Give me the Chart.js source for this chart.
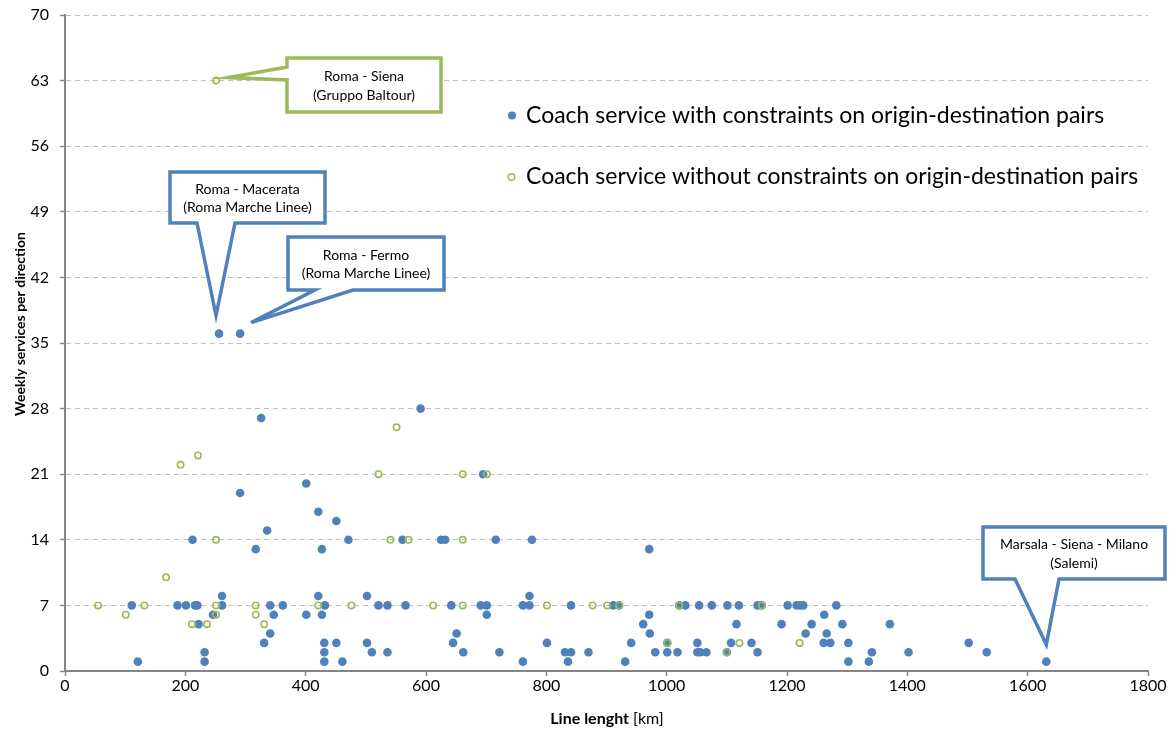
<!DOCTYPE html>
<html>
<head>
<meta charset="utf-8">
<script src="https://cdn.jsdelivr.net/npm/chart.js@4.4.1/dist/chart.umd.min.js"></script>
<style>
  html, body { margin: 0; padding: 0; background: #fff; }
  #wrap { width: 1176px; height: 729px; position: relative; }
</style>
</head>
<body>
<div id="wrap"><canvas id="chart"></canvas></div>
<script>
// scatter: linee bus, lunghezza vs servizi settimanali

const COLORS = {
  blue:  '#4F81BD',
  green: '#9BBB59',
  axis:  '#868686',
  grid:  '#BFBFBF',
};

// [km, servizi/settimana]
const withConstraints = [
  [256,36],[291,36],[591,28],[326,27],[695,21],[401,20],[291,19],[421,17],[451,16],[336,15],
  [212,14],[471,14],[561,14],[625,14],[632,14],[716,14],[776,14],
  [317,13],[427,13],[971,13],
  [261,8],[421,8],[502,8],[772,8],
  [111,7],[187,7],[201,7],[216,7],[220,7],[261,7],[341,7],[362,7],[432,7],[521,7],[536,7],
  [566,7],[642,7],[691,7],[701,7],[761,7],[772,7],[841,7],[911,7],[921,7],[1021,7],[1031,7],
  [1054,7],[1075,7],[1101,7],[1120,7],[1151,7],[1158,7],[1201,7],[1216,7],[1222,7],[1227,7],[1282,7],
  [246,6],[347,6],[401,6],[427,6],[701,6],[971,6],[1262,6],
  [222,5],[961,5],[1116,5],[1191,5],[1241,5],[1292,5],[1371,5],
  [341,4],[651,4],[972,4],[1231,4],[1266,4],
  [331,3],[431,3],[451,3],[502,3],[645,3],[801,3],[941,3],[1001,3],[1051,3],[1107,3],
  [1141,3],[1261,3],[1272,3],[1302,3],[1502,3],
  [232,2],[431,2],[510,2],[536,2],[662,2],[722,2],[831,2],[841,2],[870,2],[981,2],
  [1001,2],[1018,2],[1051,2],[1056,2],[1066,2],[1100,2],[1151,2],[1341,2],[1402,2],[1532,2],
  [121,1],[232,1],[431,1],[461,1],[761,1],[836,1],[931,1],[1302,1],[1336,1],[1631,1],
];

const withoutConstraints = [
  [251,63],[551,26],[221,23],[192,22],[521,21],[661,21],[701,21],
  [251,14],[541,14],[571,14],[661,14],
  [168,10],
  [55,7],[132,7],[251,7],[317,7],[421,7],[476,7],[612,7],[661,7],[801,7],[877,7],
  [901,7],[921,7],[1021,7],[1158,7],
  [101,6],[251,6],[317,6],
  [211,5],[236,5],[331,5],
  [1001,3],[1121,3],[1221,3],
  [1100,2],
];

const xTicks = { min: 0, max: 1800, step: 200 };
const yTicks = { min: 0, max: 70, step: 7 };

const seriesLabels = [
  'Coach service with constraints on origin-destination pairs',
  'Coach service without constraints on origin-destination pairs',
];

// callout: punto di riferimento + riquadro
const callouts = [
  { lines: ['Roma - Siena', '(Gruppo Baltour)'], color: COLORS.green, point: [251, 63], tip: [12, -3],
    box: [287, 58, 441, 112], side: 'left', base: [67, 80] },
  { lines: ['Roma - Macerata', '(Roma Marche Linee)'], color: COLORS.blue, point: [256, 36], tip: [-3, -18],
    box: [170, 172, 325, 223], side: 'bottom', base: [197, 235] },
  { lines: ['Roma - Fermo', '(Roma Marche Linee)'], color: COLORS.blue, point: [291, 36], tip: [11, -11],
    box: [288, 237, 444, 290], side: 'bottom', base: [315, 353] },
  { lines: ['Marsala - Siena - Milano', '(Salemi)'], color: COLORS.blue, point: [1631, 1], tip: [0, -17],
    box: [983, 527, 1165, 579], side: 'bottom', base: [1015, 1059] },
];

Chart.defaults.font.family = 'Lato, "Open Sans", sans-serif';
Chart.defaults.color = '#000';
Chart.defaults.animation = false;

const toPts = arr => arr.map(([x, y]) => ({ x, y }));

const calloutPlugin = {
  id: 'callouts',
  afterDatasetsDraw(chart) {
    const { ctx, scales: { x, y } } = chart;
    ctx.save();
    callouts.forEach(c => {
      const [l, t, r, b] = c.box;
      const tx = x.getPixelForValue(c.point[0]) + c.tip[0];
      const ty = y.getPixelForValue(c.point[1]) + c.tip[1];
      ctx.beginPath();
      ctx.moveTo(l, t); ctx.lineTo(r, t); ctx.lineTo(r, b);
      if (c.side === 'bottom') {
        ctx.lineTo(c.base[1], b); ctx.lineTo(tx, ty); ctx.lineTo(c.base[0], b); ctx.lineTo(l, b);
      } else {
        ctx.lineTo(l, b); ctx.lineTo(l, c.base[1]); ctx.lineTo(tx, ty); ctx.lineTo(l, c.base[0]);
      }
      ctx.closePath();
      ctx.fillStyle = '#fff';
      ctx.fill();
      ctx.lineWidth = 3.5;
      ctx.lineJoin = 'miter';
      ctx.strokeStyle = c.color;
      ctx.stroke();
      ctx.fillStyle = '#000';
      ctx.font = '14px Lato';
      ctx.textAlign = 'center';
      ctx.textBaseline = 'middle';
      const cx = (l + r) / 2, cy = (t + b) / 2;
      c.lines.forEach((s, i) => ctx.fillText(s, cx, cy - 8.5 + i * 18.5));
    });
    ctx.restore();
  },
  afterDraw(chart) {
    const { ctx } = chart;
    ctx.save();
    // legenda
    ctx.fillStyle = COLORS.blue;
    ctx.beginPath(); ctx.arc(512, 115.5, 4, 0, Math.PI * 2); ctx.fill();
    ctx.strokeStyle = COLORS.green; ctx.lineWidth = 1.6;
    ctx.beginPath(); ctx.arc(511.5, 177, 3.3, 0, Math.PI * 2); ctx.stroke();
    ctx.fillStyle = '#000';
    ctx.font = '23px Lato';
    ctx.textAlign = 'left';
    ctx.textBaseline = 'middle';
    ctx.fillText(seriesLabels[0], 526, 116);
    ctx.fillText(seriesLabels[1], 526, 177);

    // titoli assi
    ctx.font = 'bold 14px Lato';
    ctx.save();
    ctx.translate(20, 324);
    ctx.rotate(-Math.PI / 2);
    ctx.textAlign = 'center';
    ctx.fillText('Weekly services per direction', 0, 0);
    ctx.restore();

    const bold = 'Line lenght', normal = ' [km]';
    ctx.font = 'bold 16px Lato';
    const w1 = ctx.measureText(bold).width;
    ctx.font = '16px Lato';
    const w2 = ctx.measureText(normal).width;
    const x0 = 607 - (w1 + w2) / 2;
    ctx.textAlign = 'left';
    ctx.font = 'bold 16px Lato';
    ctx.fillText(bold, x0, 719);
    ctx.font = '16px Lato';
    ctx.fillText(normal, x0 + w1, 719);
    ctx.restore();
  }
};

new Chart(document.getElementById('chart').getContext('2d'), {
  type: 'scatter',
  data: {
    datasets: [
      {
        label: seriesLabels[0],
        data: toPts(withConstraints),
        backgroundColor: COLORS.blue,
        borderWidth: 0,
        pointRadius: 4.3,
        order: 1,
      },
      {
        label: seriesLabels[1],
        data: toPts(withoutConstraints),
        backgroundColor: 'rgba(0,0,0,0)',
        borderColor: COLORS.green,
        borderWidth: 1.6,
        pointRadius: 3.2,
        order: 0,
      },
    ]
  },
  options: {
    responsive: true, maintainAspectRatio: false,
    layout: { padding: { left: 0, right: 28, top: 15, bottom: 0 } },
    plugins: { legend: { display: false }, tooltip: { enabled: false } },
    scales: {
      x: {
        type: 'linear', min: xTicks.min, max: xTicks.max,
        ticks: { stepSize: xTicks.step, padding: 0, font: { size: 16 }, color: '#000', callback: v => String(v) },
        grid: { drawOnChartArea: false, drawTicks: true, tickLength: 5, tickColor: COLORS.axis, tickWidth: 1.5 },
        border: { color: COLORS.axis, width: 2 },
        afterFit: s => { s.height = 58; },
      },
      y: {
        type: 'linear', min: yTicks.min, max: yTicks.max,
        ticks: { stepSize: yTicks.step, padding: 11, font: { size: 16 }, color: '#000', callback: v => String(v) },
        grid: {
          color: ctx => ctx.tick && ctx.tick.value === 0 ? 'rgba(0,0,0,0)' : COLORS.grid,
          lineWidth: 1, drawTicks: true, tickLength: 5, tickColor: COLORS.axis, tickWidth: 1.5,
        },
        border: { color: COLORS.axis, width: 2, dash: [5, 4] },
        afterFit: s => { s.width = 65; s.paddingTop = 0; s.paddingBottom = 0; },
      }
    }
  },
  plugins: [calloutPlugin]
});
</script>
</body>
</html>
